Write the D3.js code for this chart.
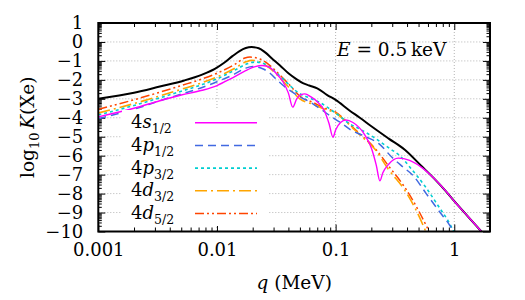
<!DOCTYPE html>
<html>
<head>
<meta charset="utf-8">
<script src="https://cdn.jsdelivr.net/npm/d3@7"></script>
<style>
  body { margin: 0; background: #fff; }
</style>
</head>
<body>
<div id="chart"></div>
<script>
// log10 K(Xe) versus q (MeV), E = 0.5 keV
const xTicks = [0.001, 0.01, 0.1, 1];
const xTickLabels = ["0.001", "0.01", "0.1", "1"];
const yTicks = [1, 0, -1, -2, -3, -4, -5, -6, -7, -8, -9, -10];

const total = [[0.001,-3.0],[0.002,-2.68],[0.0033,-2.35],[0.0053,-2.03],[0.0075,-1.72],[0.0096,-1.42],
  [0.0115,-1.1],[0.0135,-0.75],[0.0155,-0.48],[0.0175,-0.32],[0.0196,-0.27],[0.0225,-0.33],[0.0255,-0.55],
  [0.03,-0.95],[0.034,-1.24],[0.04,-1.65],[0.047,-1.97],[0.053,-2.17],[0.06,-2.3],[0.07,-2.45],[0.085,-2.8],
  [0.1,-3.06],[0.13,-3.6],[0.16,-4.0],[0.2,-4.45],[0.28,-5.1],[0.385,-5.7],[0.52,-6.5],[0.7,-7.3],
  [0.83,-7.8],[1.0,-8.4],[1.3,-9.2],[1.75,-10.1]];

const s12 = [[0.001,-3.95],[0.002,-3.5],[0.0033,-3.1],[0.005,-2.8],[0.0075,-2.55],[0.01,-2.3],[0.013,-1.95],
  [0.017,-1.55],[0.021,-1.3],[0.024,-1.24],[0.028,-1.35],[0.032,-1.7],[0.036,-2.1],[0.04,-2.7],[0.0435,-3.44],
  [0.047,-3.0],[0.051,-2.78],[0.055,-2.74],[0.062,-2.9],[0.07,-3.15],[0.08,-3.6],[0.088,-4.3],[0.095,-5.03],
  [0.1,-4.65],[0.11,-4.25],[0.122,-4.12],[0.14,-4.25],[0.176,-4.9],[0.2,-5.6],[0.22,-6.5],[0.236,-7.33],
  [0.25,-6.9],[0.28,-6.45],[0.337,-6.13],[0.42,-6.25],[0.53,-6.62],[0.7,-7.3],[0.83,-7.8],[1.0,-8.4],
  [1.3,-9.2],[1.75,-10.1]];

const p12 = [[0.001,-4.05],[0.002,-3.55],[0.0033,-3.1],[0.005,-2.75],[0.0075,-2.4],[0.01,-2.1],[0.014,-1.7],
  [0.0175,-1.38],[0.02,-1.3],[0.024,-1.4],[0.028,-1.65],[0.032,-2.0],[0.037,-2.35],[0.042,-2.6],[0.05,-2.9],
  [0.06,-3.15],[0.075,-3.55],[0.095,-4.0],[0.11,-4.25],[0.135,-4.65],[0.18,-5.0],[0.23,-5.35],[0.3,-6.1],
  [0.37,-6.6],[0.45,-7.05],[0.58,-8.0],[0.76,-9.0],[0.91,-9.65],[1.0,-10.1]];

const p32 = [[0.001,-3.85],[0.002,-3.35],[0.0033,-2.95],[0.005,-2.6],[0.0075,-2.25],[0.01,-1.95],[0.014,-1.5],
  [0.018,-1.15],[0.021,-1.06],[0.025,-1.15],[0.03,-1.5],[0.036,-1.95],[0.042,-2.35],[0.049,-2.7],[0.06,-2.95],
  [0.074,-3.2],[0.09,-3.55],[0.105,-3.85],[0.13,-4.3],[0.16,-4.6],[0.2,-4.95],[0.29,-5.65],[0.34,-5.95],
  [0.435,-6.7],[0.58,-7.7],[0.76,-8.8],[0.88,-9.4],[1.0,-10.05]];

const d32 = [[0.001,-3.75],[0.002,-3.25],[0.0033,-2.85],[0.005,-2.5],[0.0075,-2.15],[0.01,-1.85],[0.014,-1.4],
  [0.0175,-1.05],[0.0196,-0.97],[0.023,-1.05],[0.028,-1.4],[0.034,-1.9],[0.039,-2.3],[0.05,-3.0],[0.065,-3.3],
  [0.081,-3.55],[0.1,-3.75],[0.124,-4.24],[0.16,-4.9],[0.214,-5.65],[0.277,-6.7],[0.385,-7.85],[0.47,-8.8],
  [0.58,-10.05]];

const d52 = [[0.001,-3.55],[0.002,-3.05],[0.0033,-2.65],[0.005,-2.3],[0.0075,-1.95],[0.01,-1.65],[0.014,-1.2],
  [0.0172,-0.85],[0.019,-0.8],[0.023,-0.9],[0.028,-1.25],[0.034,-1.75],[0.04,-2.2],[0.05,-2.85],[0.065,-3.2],
  [0.081,-3.5],[0.1,-3.7],[0.124,-4.2],[0.16,-4.85],[0.214,-5.6],[0.28,-6.55],[0.4,-7.85],[0.5,-8.9],
  [0.62,-10.05]];

const seriesNames = [["4", "s", "1/2"], ["4", "p", "1/2"], ["4", "p", "3/2"], ["4", "d", "3/2"], ["4", "d", "5/2"]];

const FONT = "'DejaVu Serif', serif";

const width = 525, height = 300;
const margin = { top: 23, right: 35, bottom: 68.5, left: 98.3 };
const w = width - margin.left - margin.right;
const h = height - margin.top - margin.bottom;

const svg = d3.select("#chart")
    .append("svg")
    .attr("width", width)
    .attr("height", height)
    .style("font-family", FONT);

const g = svg.append("g")
    .attr("transform", `translate(${margin.left}, ${margin.top})`);

const x = d3.scaleLog().domain([0.001, 2]).range([0, w]);
const y = d3.scaleLinear().domain([-10, 1]).range([h, 0]);

g.append("clipPath").attr("id", "clip")
    .append("rect").attr("width", w).attr("height", h);

// Grid
g.selectAll(".gx")
    .data(xTicks.slice(1))
    .enter().append("line")
    .attr("x1", d => x(d)).attr("x2", d => x(d))
    .attr("y1", 0).attr("y2", h)
    .attr("stroke", "#b4b4b4").attr("stroke-dasharray", "1,2");

g.selectAll(".gy")
    .data(yTicks.slice(1, -1))
    .enter().append("line")
    .attr("x1", 0).attr("x2", w)
    .attr("y1", d => y(d)).attr("y2", d => y(d))
    .attr("stroke", "#b4b4b4").attr("stroke-dasharray", "1,2");

// Minor ticks
const xMinor = [];
[0.001, 0.01, 0.1, 1].forEach(dec => {
    for (let m = 2; m <= 9; m++) if (dec * m <= 2) xMinor.push(dec * m);
});
const yMinor = [];
for (let k = -10; k < 1; k++) {
    for (let m = 2; m <= 9; m++) yMinor.push(k + Math.log10(m));
}

function styleAxis(sel) {
    sel.attr("font-family", FONT).style("font-family", FONT);
    sel.select(".domain").remove();
    sel.selectAll("line").attr("stroke", "#000").attr("stroke-width", 1);
    sel.selectAll("text").attr("font-size", 18).style("font-family", FONT);
}

g.append("g").attr("transform", `translate(0, ${h})`)
    .call(d3.axisBottom(x).tickValues(xTicks).tickFormat((d, i) => xTickLabels[i]).tickSize(-7).tickPadding(12))
    .call(styleAxis);
g.append("g").attr("transform", `translate(0, ${h})`)
    .call(d3.axisBottom(x).tickValues(xMinor).tickFormat("").tickSize(-4))
    .call(styleAxis);
g.append("g")
    .call(d3.axisTop(x).tickValues(xTicks).tickFormat("").tickSize(-7))
    .call(styleAxis);
g.append("g")
    .call(d3.axisTop(x).tickValues(xMinor).tickFormat("").tickSize(-4))
    .call(styleAxis);

g.append("g")
    .call(d3.axisLeft(y).tickValues(yTicks).tickFormat(d => d < 0 ? "\u2212" + Math.abs(d) : d).tickSize(-7).tickPadding(15))
    .call(styleAxis);
g.append("g")
    .call(d3.axisLeft(y).tickValues(yMinor).tickFormat("").tickSize(-3.5))
    .call(styleAxis);
g.append("g").attr("transform", `translate(${w}, 0)`)
    .call(d3.axisRight(y).tickValues(yTicks).tickFormat("").tickSize(-7))
    .call(styleAxis);
g.append("g").attr("transform", `translate(${w}, 0)`)
    .call(d3.axisRight(y).tickValues(yMinor).tickFormat("").tickSize(-3.5))
    .call(styleAxis);

// Curves
const line = d3.line()
    .x(d => x(d[0]))
    .y(d => y(d[1]))
    .curve(d3.curveMonotoneX);

const styles = [
    { data: total, color: "#000000", dash: null, sw: 2 },
    { data: d52, color: "#ff4500", dash: "9,3,2,3,2,3", sw: 1.5 },
    { data: d32, color: "#ffa500", dash: "12,4,2,4", sw: 1.6 },
    { data: p32, color: "#00ced1", dash: "3,3", sw: 1.6 },
    { data: p12, color: "#4169e1", dash: "8,5", sw: 1.5 },
    { data: s12, color: "#ff00ff", dash: null, sw: 1.4 }
];

const curves = g.append("g").attr("clip-path", "url(#clip)");
styles.forEach(s => {
    curves.append("path")
        .datum(s.data)
        .attr("fill", "none")
        .attr("stroke", s.color)
        .attr("stroke-width", s.sw)
        .attr("stroke-dasharray", s.dash)
        .attr("d", line);
});

// Legend
const legendStyles = [styles[5], styles[4], styles[3], styles[2], styles[1]];
const lg = g.append("g");
lg.append("rect")
    .attr("x", 122 - margin.left).attr("y", 110 - margin.top)
    .attr("width", 146).attr("height", 116)
    .attr("fill", "#fff");

seriesNames.forEach((n, i) => {
    const ly = 122.7 - margin.top + i * 22.7;
    lg.append("line")
        .attr("x1", 195 - margin.left).attr("x2", 257 - margin.left)
        .attr("y1", ly).attr("y2", ly)
        .attr("stroke", legendStyles[i].color)
        .attr("stroke-width", legendStyles[i].sw)
        .attr("stroke-dasharray", legendStyles[i].dash);
    const t = lg.append("text")
        .attr("x", 131 - margin.left).attr("y", ly + 5.5)
        .attr("font-size", 18);
    t.append("tspan").text(n[0]);
    t.append("tspan").attr("font-style", "italic").text(n[1]);
    t.append("tspan").attr("font-size", 12.5).attr("dy", 5).text(n[2]);
});

// Annotation
const ann = g.append("text")
    .attr("x", 337 - margin.left).attr("y", 56 - margin.top)
    .attr("font-size", 18.5);
ann.append("tspan").attr("font-style", "italic").text("E");
ann.append("tspan").text(" = 0.5\u2009keV");

// Frame
g.append("rect")
    .attr("width", w).attr("height", h)
    .attr("fill", "none").attr("stroke", "#000").attr("stroke-width", 2);

// Axis labels
const xl = svg.append("text")
    .attr("x", margin.left + w / 2).attr("y", 289)
    .attr("text-anchor", "middle")
    .attr("font-size", 18.5);
xl.append("tspan").attr("font-style", "italic").text("q");
xl.append("tspan").text(" (MeV)");

const yl = svg.append("text")
    .attr("transform", `translate(34, ${margin.top + h / 2}) rotate(-90)`)
    .attr("text-anchor", "middle")
    .attr("font-size", 18.5);
yl.append("tspan").text("log");
yl.append("tspan").attr("font-size", 13).attr("dy", 5).text("10");
yl.append("tspan").attr("dy", -5).text("\u2009");
yl.append("tspan").attr("font-style", "italic").text("K");
yl.append("tspan").text("(Xe)");
</script>
</body>
</html>
